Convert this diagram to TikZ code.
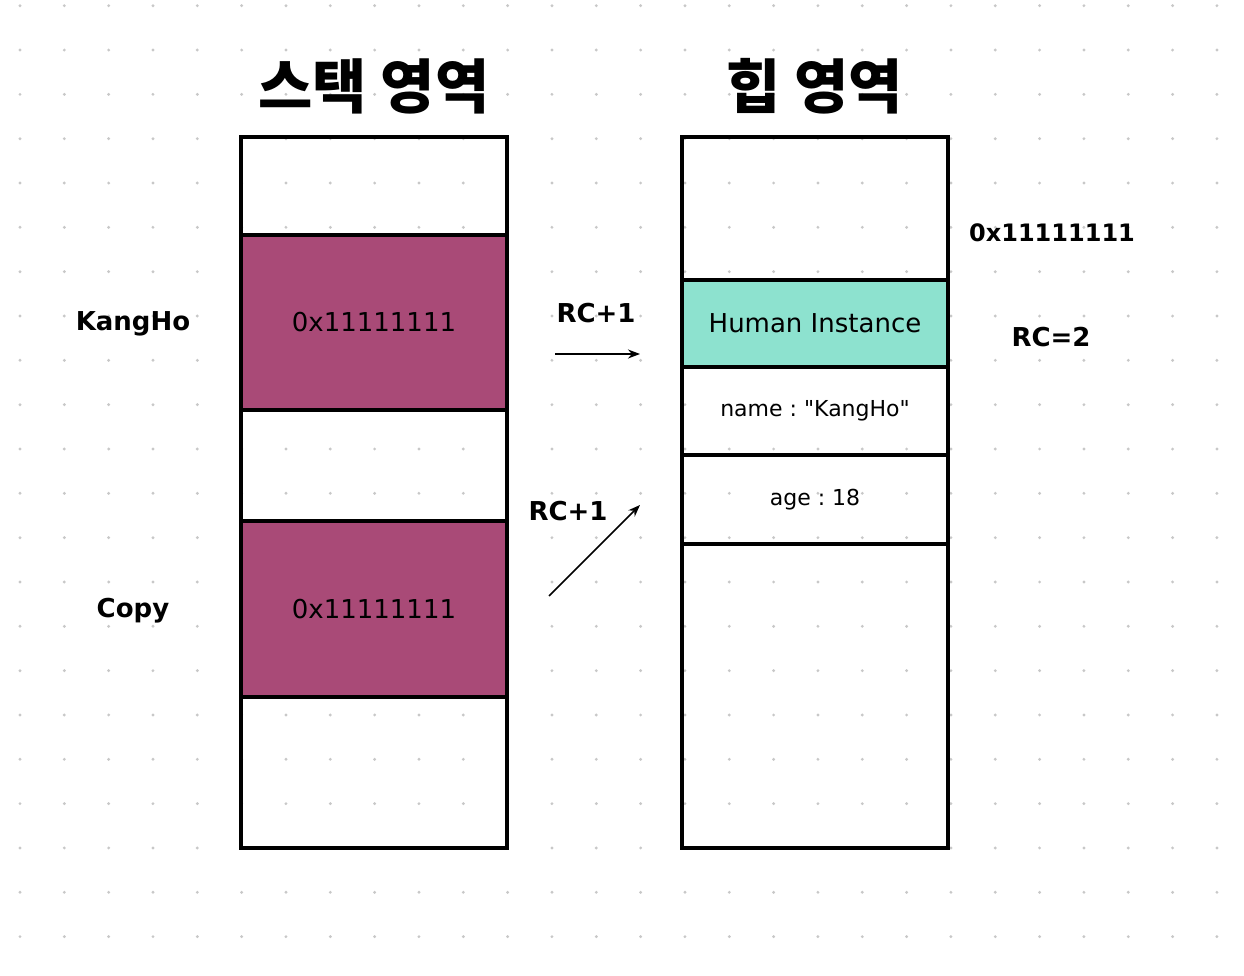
\documentclass[tikz,border=0pt]{standalone}
\usepackage{fontspec}
\setmainfont{DejaVu Sans}
\newfontfamily\krfont{Noto Sans CJK KR}
\usetikzlibrary{arrows.meta}
\definecolor{refpurple}{HTML}{A94A77}
\definecolor{refteal}{HTML}{8DE2CF}
\definecolor{dotgray}{HTML}{C8C8C8}
\newcommand{\fsz}[1]{\fontsize{#1}{#1}\selectfont}
\frenchspacing
\tikzset{
  cell/.style={draw,line width=4pt,minimum width=266pt,inner sep=0pt},
  lbl/.style={font=\fsz{26}\bfseries,inner sep=0pt},
  ttl/.style={font=\fsz{59}\krfont\bfseries,inner sep=0pt},
  ptr/.style={line width=1.5pt,-{Stealth[length=12pt,width=9pt]}}
}
\begin{document}
\begin{tikzpicture}[x=1pt,y=-1pt,line join=miter]
  \useasboundingbox (0,0) rectangle (1244,976);
  % dot grid
  \foreach \i in {0,...,27}
    \foreach \j in {0,...,21}
      \fill[dotgray] ({20+44.33*\i},{5.7+44.33*\j}) circle (1.6);
  % titles
  \node[ttl] (stacktitle) at (374,86) {스택 영역};
  \node[ttl] (heaptitle) at (815,86) {힙 영역};
  % stack area
  \node[cell,minimum height=98pt] (s1) at (374,186) {};
  \node[cell,minimum height=175pt,fill=refpurple,font=\fsz{26}] (s2) at (374,322.5) {0x11111111};
  \node[cell,minimum height=111pt] (s3) at (374,465.5) {};
  \node[cell,minimum height=176pt,fill=refpurple,font=\fsz{26}] (s4) at (374,609) {0x11111111};
  \node[cell,minimum height=151pt] (s5) at (374,772.5) {};
  \node[lbl] (kangho) at (133,324) {KangHo};
  \node[lbl] (copy) at (133,611) {Copy};
  % heap area
  \node[cell,minimum height=143pt] (h1) at (815,208.5) {};
  \node[cell,minimum height=87pt,fill=refteal,font=\fsz{26}] (h2) at (815,323.5) {Human Instance};
  \node[cell,minimum height=88pt,font=\fsz{22}] (h3) at (815,411) {name : \textquotedbl KangHo\textquotedbl};
  \node[cell,minimum height=89pt,font=\fsz{22}] (h4) at (815,499.5) {age : 18};
  \node[cell,minimum height=304pt] (h5) at (815,696) {};
  \node[lbl,font=\fsz{24}\bfseries] (addr) at (1052,233) {0x11111111};
  \node[lbl] (rc) at (1051,337) {RC=2};
  % reference counting
  \coordinate (a1) at (555,354);
  \coordinate (b1) at (640,354);
  \coordinate (a2) at (549,596);
  \coordinate (b2) at (640,505);
  \draw[ptr] (a1) -- (b1);
  \draw[ptr] (a2) -- (b2);
  \node[lbl] (rc1) at (596,313) {RC+1};
  \node[lbl] (rc2) at (568,511) {RC+1};
\end{tikzpicture}
\end{document}
